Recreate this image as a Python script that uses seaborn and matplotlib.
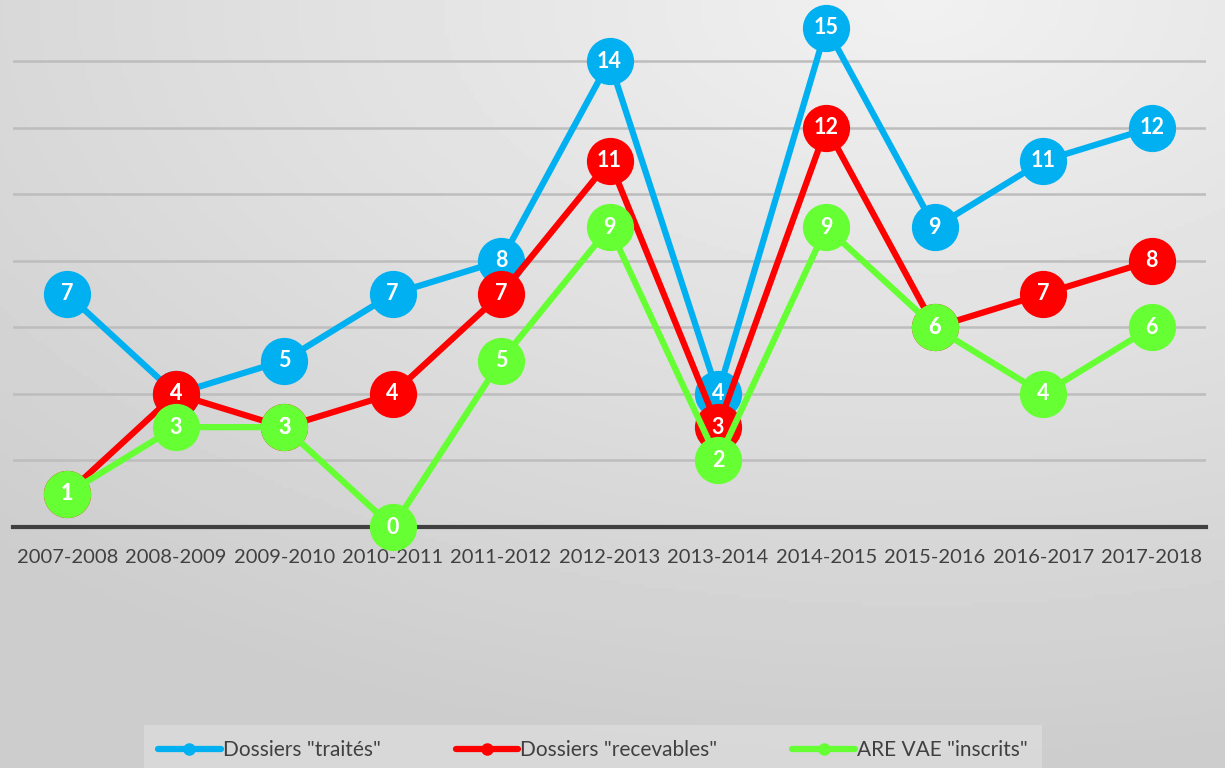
import numpy as np
import pandas as pd
import matplotlib
matplotlib.use("Agg")
import matplotlib.pyplot as plt
import seaborn as sns
from matplotlib.lines import Line2D

# Data
years = ["2007-2008", "2008-2009", "2009-2010", "2010-2011", "2011-2012", "2012-2013",
         "2013-2014", "2014-2015", "2015-2016", "2016-2017", "2017-2018"]
traites = [7, 4, 5, 7, 8, 14, 4, 15, 9, 11, 12]
recevables = [1, 4, 3, 4, 7, 11, 3, 12, 6, 7, 8]
inscrits = [1, 3, 3, 0, 5, 9, 2, 9, 6, 4, 6]

series_names = ['Dossiers "traités"', 'Dossiers "recevables"', 'ARE VAE "inscrits"']
series_values = [traites, recevables, inscrits]
colors = ["#00B0F0", "#FF0000", "#66FF33"]

df = pd.concat([
    pd.DataFrame({"Year": years, "x": range(len(years)), "Value": vals, "Series": name})
    for name, vals in zip(series_names, series_values)
])

sns.set_style("white")
plt.rcParams["font.family"] = ["Lato", "DejaVu Sans"]

fig = plt.figure(figsize=(12.25, 7.68), dpi=100)

# gradient background
bg = fig.add_axes([0, 0, 1, 1], zorder=-10)
yy, xx = np.mgrid[0:1:200j, 0:1:300j]
dist = np.sqrt(((xx - 0.75) * 1.0) ** 2 + ((yy - 0.0) * 1.1) ** 2)
grad = 0.945 - 0.13 * np.clip(dist, 0, 1.1)
bg.imshow(grad, cmap="gray", vmin=0, vmax=1, aspect="auto", extent=[0, 1, 1, 0])
bg.set_axis_off()

ax = fig.add_axes([13 / 1225, 1 - 527 / 768, 1193 / 1225, 527 / 768])
ax.patch.set_alpha(0)

for name, color in zip(series_names, colors):
    sub = df[df["Series"] == name]
    sns.lineplot(data=sub, x="x", y="Value", ax=ax, color=color, linewidth=4.5,
                 marker="o", markersize=34, markeredgewidth=0, clip_on=False,
                 legend=False, zorder=3)
    for x, v in zip(sub["x"], sub["Value"]):
        ax.text(x, v, str(v), color="white", fontsize=15.5, fontweight="bold",
                ha="center", va="center", zorder=10, clip_on=False)

ax.set_xlim(-0.5, len(years) - 0.5)
ax.set_ylim(0, 527 / (466 / 14))
ax.set_yticks(range(2, 16, 2))
ax.yaxis.grid(True, color="#BDBDBD", linewidth=1.8)
ax.set_axisbelow(True)
ax.set_xticks(range(len(years)))
ax.set_xticklabels(years, fontsize=14.5, color="#404040")
ax.tick_params(axis="x", length=0, pad=16)
ax.tick_params(axis="y", length=0, labelleft=False)
ax.set_xlabel("")
ax.set_ylabel("")
for s in ["top", "right", "left"]:
    ax.spines[s].set_visible(False)
ax.spines["bottom"].set_color("#404040")
ax.spines["bottom"].set_linewidth(3)

handles = [Line2D([0], [0], color=c, linewidth=4.5, marker="o", markersize=8) for c in colors]
leg = fig.legend(handles, series_names, loc="center", bbox_to_anchor=(593 / 1225, 1 - 750 / 768),
                 ncol=3, frameon=True, fontsize=15, handlelength=3, handletextpad=0.1,
                 columnspacing=3.6, borderpad=0.7, fancybox=False)
leg.get_frame().set_facecolor("#DCDCDC")
leg.get_frame().set_edgecolor("none")
for t in leg.get_texts():
    t.set_color("#404040")

fig.savefig("out.png", dpi=100)
